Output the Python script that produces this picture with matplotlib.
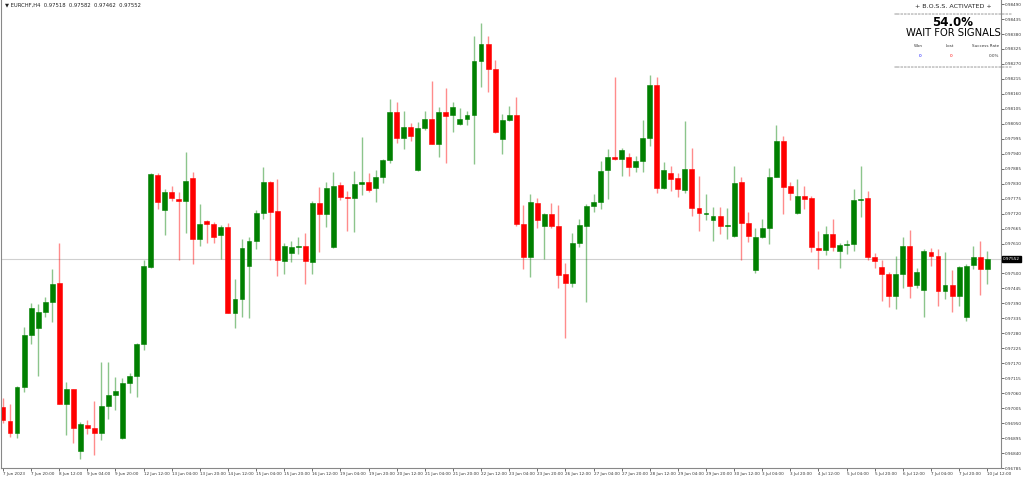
import matplotlib
matplotlib.use("Agg")
import matplotlib.pyplot as plt
import numpy as np

opens = [0.97011,0.96959,0.96914,0.97084,0.97274,0.97300,0.97359,0.97395,0.97465,0.97021,
0.97076,0.96848,0.96944,0.96933,0.96914,0.97013,0.97054,0.96896,0.97098,0.97124,
0.97241,0.97524,0.97862,0.97733,0.97800,0.97774,0.97767,0.97851,0.97627,0.97693,
0.97682,0.97642,0.97671,0.97355,0.97406,0.97528,0.97620,0.97722,0.97836,0.97730,
0.97546,0.97576,0.97598,0.97601,0.97542,0.97759,0.97719,0.97598,0.97825,0.97781,
0.97778,0.97829,0.97836,0.97814,0.97855,0.97917,0.98094,0.97998,0.98038,0.97880,
0.98035,0.98068,0.97976,0.98094,0.98083,0.98049,0.98068,0.98083,0.98281,0.98343,
0.98252,0.97994,0.98064,0.98083,0.97682,0.97561,0.97759,0.97675,0.97719,0.97675,
0.97498,0.97465,0.97612,0.97675,0.97748,0.97763,0.97880,0.97928,0.97921,0.97928,
0.97891,0.97914,0.97998,0.98193,0.97814,0.97869,0.97851,0.97807,0.97884,0.97741,
0.97719,0.97697,0.97711,0.97675,0.97638,0.97836,0.97686,0.97513,0.97634,0.97667,
0.97855,0.97987,0.97822,0.97722,0.97785,0.97778,0.97594,0.97587,0.97645,0.97583,
0.97605,0.97609,0.97770,0.97778,0.97561,0.97524,0.97498,0.97418,0.97498,0.97601,
0.97458,0.97440,0.97579,0.97565,0.97436,0.97458,0.97418,0.97340,0.97531,0.97561,
0.97518]
highs = [0.97043,0.97021,0.97087,0.97305,0.97392,0.97388,0.97414,0.97517,0.97612,0.97102,
0.97076,0.96955,0.96962,0.97032,0.97175,0.97175,0.97120,0.97116,0.97135,0.97245,
0.97550,0.97869,0.97869,0.97811,0.97822,0.97800,0.97947,0.97873,0.97756,0.97697,
0.97689,0.97678,0.97686,0.97480,0.97627,0.97634,0.97733,0.97891,0.97840,0.97847,
0.97612,0.97620,0.97634,0.97649,0.97767,0.97818,0.97836,0.97873,0.97836,0.97803,
0.97877,0.98002,0.97869,0.97880,0.97921,0.98141,0.98130,0.98097,0.98053,0.98057,
0.98097,0.98207,0.98112,0.98182,0.98130,0.98108,0.98097,0.98373,0.98421,0.98373,
0.98285,0.98086,0.98116,0.98149,0.97752,0.97792,0.97778,0.97722,0.97759,0.97752,
0.97539,0.97649,0.97700,0.97756,0.97792,0.97914,0.97958,0.98222,0.97961,0.97943,
0.97932,0.98064,0.98229,0.98222,0.97910,0.97895,0.97869,0.98060,0.97961,0.97858,
0.97792,0.97745,0.97745,0.97741,0.97895,0.97855,0.97726,0.97667,0.97700,0.97888,
0.98046,0.98005,0.97836,0.97847,0.97822,0.97785,0.97656,0.97675,0.97700,0.97612,
0.97623,0.97811,0.97895,0.97803,0.97576,0.97550,0.97506,0.97565,0.97634,0.97660,
0.97520,0.97590,0.97594,0.97590,0.97579,0.97513,0.97528,0.97535,0.97601,0.97620,
0.97582]
lows = [0.96951,0.96900,0.96897,0.97065,0.97241,0.97124,0.97340,0.97322,0.97021,0.96907,
0.96877,0.96819,0.96911,0.96833,0.96888,0.96966,0.96999,0.96892,0.97061,0.97046,
0.97219,0.97520,0.97737,0.97642,0.97767,0.97550,0.97649,0.97535,0.97601,0.97612,
0.97612,0.97553,0.97355,0.97300,0.97340,0.97337,0.97590,0.97700,0.97550,0.97491,
0.97498,0.97542,0.97572,0.97462,0.97498,0.97579,0.97671,0.97594,0.97770,0.97656,
0.97653,0.97789,0.97800,0.97763,0.97833,0.97906,0.97980,0.97958,0.97987,0.97877,
0.98027,0.97976,0.97928,0.97906,0.98020,0.98046,0.98046,0.97903,0.98185,0.98167,
0.98016,0.97939,0.98060,0.97675,0.97517,0.97487,0.97667,0.97553,0.97667,0.97447,
0.97263,0.97451,0.97598,0.97395,0.97726,0.97737,0.97774,0.97917,0.97858,0.97858,
0.97873,0.97873,0.97969,0.97796,0.97811,0.97803,0.97781,0.97796,0.97711,0.97656,
0.97697,0.97620,0.97645,0.97627,0.97634,0.97550,0.97616,0.97502,0.97631,0.97609,
0.97855,0.97719,0.97770,0.97719,0.97737,0.97579,0.97517,0.97568,0.97583,0.97520,
0.97572,0.97583,0.97708,0.97550,0.97520,0.97399,0.97377,0.97370,0.97447,0.97410,
0.97447,0.97340,0.97528,0.97381,0.97406,0.97359,0.97381,0.97326,0.97517,0.97421,
0.97462]
closes = [0.96962,0.96914,0.97084,0.97274,0.97373,0.97359,0.97395,0.97462,0.97021,0.97076,
0.96933,0.96947,0.96933,0.96914,0.97013,0.97054,0.97069,0.97098,0.97124,0.97241,
0.97528,0.97866,0.97763,0.97800,0.97778,0.97767,0.97840,0.97627,0.97682,0.97682,
0.97634,0.97671,0.97355,0.97406,0.97594,0.97620,0.97722,0.97836,0.97726,0.97550,
0.97601,0.97598,0.97601,0.97546,0.97759,0.97719,0.97814,0.97822,0.97781,0.97778,
0.97829,0.97836,0.97807,0.97855,0.97917,0.98094,0.97998,0.98038,0.98005,0.98035,
0.98068,0.97976,0.98094,0.98079,0.98112,0.98068,0.98083,0.98281,0.98343,0.98252,
0.98020,0.98064,0.98083,0.97682,0.97561,0.97763,0.97697,0.97719,0.97675,0.97495,
0.97465,0.97612,0.97678,0.97748,0.97763,0.97877,0.97928,0.97921,0.97954,0.97891,
0.97914,0.97998,0.98193,0.97814,0.97880,0.97847,0.97811,0.97884,0.97741,0.97722,
0.97722,0.97711,0.97675,0.97678,0.97833,0.97686,0.97638,0.97634,0.97667,0.97855,
0.97987,0.97818,0.97796,0.97785,0.97774,0.97598,0.97587,0.97645,0.97598,0.97605,
0.97609,0.97770,0.97774,0.97561,0.97546,0.97498,0.97418,0.97498,0.97601,0.97454,
0.97506,0.97583,0.97565,0.97436,0.97458,0.97418,0.97524,0.97528,0.97561,0.97517,
0.97552]

tick_labels = ["7 Jun 2023","7 Jun 20:00","8 Jun 12:00","9 Jun 04:00","9 Jun 20:00","12 Jun 12:00",
"13 Jun 04:00","13 Jun 20:00","14 Jun 12:00","15 Jun 04:00","15 Jun 20:00","16 Jun 12:00",
"19 Jun 04:00","19 Jun 20:00","20 Jun 12:00","21 Jun 04:00","21 Jun 20:00","22 Jun 12:00",
"23 Jun 04:00","23 Jun 20:00","26 Jun 12:00","27 Jun 04:00","27 Jun 20:00","28 Jun 12:00",
"29 Jun 04:00","29 Jun 20:00","30 Jun 12:00","3 Jul 04:00","3 Jul 20:00","4 Jul 12:00",
"5 Jul 04:00","5 Jul 20:00","6 Jul 12:00","7 Jul 04:00","7 Jul 20:00","10 Jul 12:00"]
price_ticks = [0.98490,0.98435,0.98380,0.98325,0.98270,0.98215,0.98160,0.98105,0.98050,0.97995,
0.97940,0.97885,0.97830,0.97775,0.97720,0.97665,0.97610,0.97500,0.97445,0.97390,0.97335,
0.97280,0.97225,0.97170,0.97115,0.97060,0.97005,0.96950,0.96895,0.96840,0.96785]
current = 0.97552
symbol = "EURCHF,H4"

fig = plt.figure(figsize=(10.24, 4.8), dpi=100)
ax = fig.add_axes([1/1024, 12/480, 1000/1024, 468/480])
n = len(opens)
x = np.arange(n)
GREEN, RED = "#008000", "#ff0000"
for i in x:
    o, h, l, c = opens[i], highs[i], lows[i], closes[i]
    col = GREEN if c >= o else RED
    ax.vlines(i, l, h, color=col, alpha=0.45, lw=1)
    lo, hi = min(o, c), max(o, c)
    if hi - lo < 0.00002:
        hi = lo + 0.00002
    ax.bar(i, hi - lo, bottom=lo, width=0.7, color=col, edgecolor=col, lw=0.4)
ax.axhline(current, color="#d0d0d0", lw=0.8, zorder=0)
ax.set_xlim(-0.28, 141.96)
ax.set_ylim(0.96786, 0.98505)
ax.yaxis.tick_right()
ax.set_yticks(price_ticks)
ax.set_yticklabels([f"{p:.5f}" for p in price_ticks])
ax.set_xticks(np.arange(0, n, 4))
ax.set_xticklabels(tick_labels)
ax.tick_params(axis="both", labelsize=3.0, colors="#333333", length=2, width=0.5, pad=1)
ax.spines["top"].set_visible(False)
for s in ["left", "right", "bottom"]:
    ax.spines[s].set_color("#888888")
    ax.spines[s].set_linewidth(0.8)
for lab in ax.get_xticklabels():
    lab.set_horizontalalignment("left")
ax.text(1.002, current, f"{current:.5f}", transform=ax.get_yaxis_transform(), fontsize=3.0,
        color="white", va="center", ha="left",
        bbox=dict(boxstyle="square,pad=0.2", fc="black", ec="black"))
fig.text(5/1024, 1 - 5/480, "\u25bc " + symbol + "  " + "  ".join(f"{v:.5f}" for v in
         (opens[-1], highs[-1], lows[-1], closes[-1])), fontsize=3.8, va="center", color="#222222")
cx = 953/1024
def fy(p): return 1 - p/480
fig.text(cx, fy(7), "+ B.O.S.S. ACTIVATED +", ha="center", va="center", fontsize=4.6, color="#222222")
fig.text(cx, fy(14), "=" * 34, ha="center", va="center", fontsize=3.0, color="#555555")
fig.text(cx, fy(22), "54.0%", ha="center", va="center", fontsize=8.5, fontweight="bold", color="black")
fig.text(cx, fy(33), "WAIT FOR SIGNALS", ha="center", va="center", fontsize=7.2, color="black")
fig.text(918/1024, fy(46), "Won", ha="center", va="center", fontsize=3.0, color="#333333")
fig.text(950/1024, fy(46), "Lost", ha="center", va="center", fontsize=3.0, color="#333333")
fig.text(999/1024, fy(46), "Success Rate", ha="right", va="center", fontsize=3.0, color="#333333")
fig.text(920/1024, fy(56), "0", ha="center", va="center", fontsize=3.0, color="blue")
fig.text(951/1024, fy(56), "0", ha="center", va="center", fontsize=3.0, color="red")
fig.text(999/1024, fy(56), "0.0%", ha="right", va="center", fontsize=3.0, color="#333333")
fig.text(cx, fy(67), "=" * 34, ha="center", va="center", fontsize=3.0, color="#555555")
fig.savefig("out.png", dpi=100)
